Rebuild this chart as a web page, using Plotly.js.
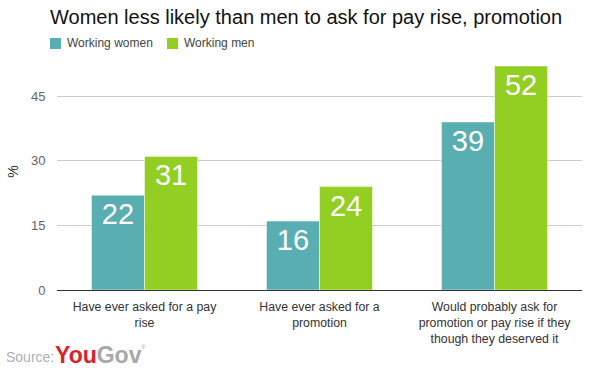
<!DOCTYPE html>
<html><head><meta charset="utf-8">
<script src="https://cdn.plot.ly/plotly-3.0.1.min.js"></script>
<style>html,body{margin:0;padding:0;background:#fff}#chart{width:589px;height:368px}</style>
</head><body><div id="chart"></div>
<script>
const categories = ["Have ever asked for a pay<br>rise", "Have ever asked for a<br>promotion", "Would probably ask for<br>promotion or pay rise if they<br>though they deserved it"];
const womenValues = [22, 16, 39];
const menValues = [31, 24, 52];
const seriesNames = ["Working women", "Working men"];
const seriesColors = ['#59aeb1', '#92cf22'];
const yTicks = [0, 15, 30, 45];

const F = "Liberation Sans, Arial, sans-serif";
const PW = 525, PH = 237, ML = 57, MT = 53;
function trace(name, vals, color) {
  return {
    type: 'bar', name: name, x: categories, y: vals,
    marker: {color: color, line: {color: '#ffffff', width: 0.5}},
    text: vals.map(String), textposition: 'inside', insidetextanchor: 'end',
    textfont: {family: F, size: 29, color: '#ffffff'},
    constraintext: 'none', hoverinfo: 'none', cliponaxis: false
  };
}
const data = [trace(seriesNames[0], womenValues, seriesColors[0]), trace(seriesNames[1], menValues, seriesColors[1])];

// legend drawn as swatches + labels (pixel positions converted to paper coords)
const px = x => (x - ML) / PW, py = y => 1 - (y - MT) / PH;
const legendX = [50, 167];
const shapes = [], annotations = [];
seriesNames.forEach((n, i) => {
  shapes.push({type: 'rect', xref: 'paper', yref: 'paper', x0: px(legendX[i]), x1: px(legendX[i] + 11), y0: py(49), y1: py(38), fillcolor: seriesColors[i], line: {width: 0}});
  annotations.push({xref: 'paper', yref: 'paper', x: px(legendX[i] + 15), y: py(43.5), xanchor: 'left', yanchor: 'middle', text: n, showarrow: false, font: {family: F, size: 12, color: '#444'}});
});
annotations.push(
  {xref: 'paper', yref: 'paper', x: px(4), y: py(357), xanchor: 'left', yanchor: 'middle', text: 'Source:', showarrow: false, font: {family: F, size: 14, color: '#b0b0b0'}},
  {xref: 'paper', yref: 'paper', x: px(53), y: py(355), xanchor: 'left', yanchor: 'middle', text: '<b><span style="color:#d9232d">You</span><span style="color:#a8a8a8">Gov</span></b>', showarrow: false, font: {family: F, size: 23, color: '#a8a8a8'}},
  {xref: 'paper', yref: 'paper', x: px(139), y: py(347), xanchor: 'left', yanchor: 'middle', text: '®', showarrow: false, font: {family: F, size: 6, color: '#a8a8a8'}}
);

const layout = {
  width: 589, height: 368,
  margin: {l: ML, r: 7, t: MT, b: 78},
  paper_bgcolor: '#fff', plot_bgcolor: '#fff',
  font: {family: F},
  barmode: 'group', bargap: 0.394, bargroupgap: 0,
  title: {text: 'Women less likely than men to ask for pay rise, promotion', x: 50/589, xref: 'container', xanchor: 'left', y: 1 - 17/368, yref: 'container', yanchor: 'middle', font: {family: F, size: 20, color: '#111'}},
  showlegend: false,
  xaxis: {tickfont: {family: F, size: 12.3, color: '#333'}, showline: true, linecolor: '#333', linewidth: 1, ticks: '', ticklabelstandoff: 5, fixedrange: true},
  yaxis: {range: [0, 55], tickvals: yTicks, ticktext: yTicks.map(String), tickfont: {family: F, size: 13, color: '#666'}, gridcolor: '#cccccc', gridwidth: 1, zeroline: false, ticks: 'outside', tickcolor: 'rgba(0,0,0,0)', ticklen: 8,
    title: {text: '%', font: {family: F, size: 14, color: '#333'}, standoff: 9}, fixedrange: true},
  shapes: shapes,
  annotations: annotations
};
Plotly.newPlot('chart', data, layout, {displayModeBar: false, staticPlot: true});
</script></body></html>
